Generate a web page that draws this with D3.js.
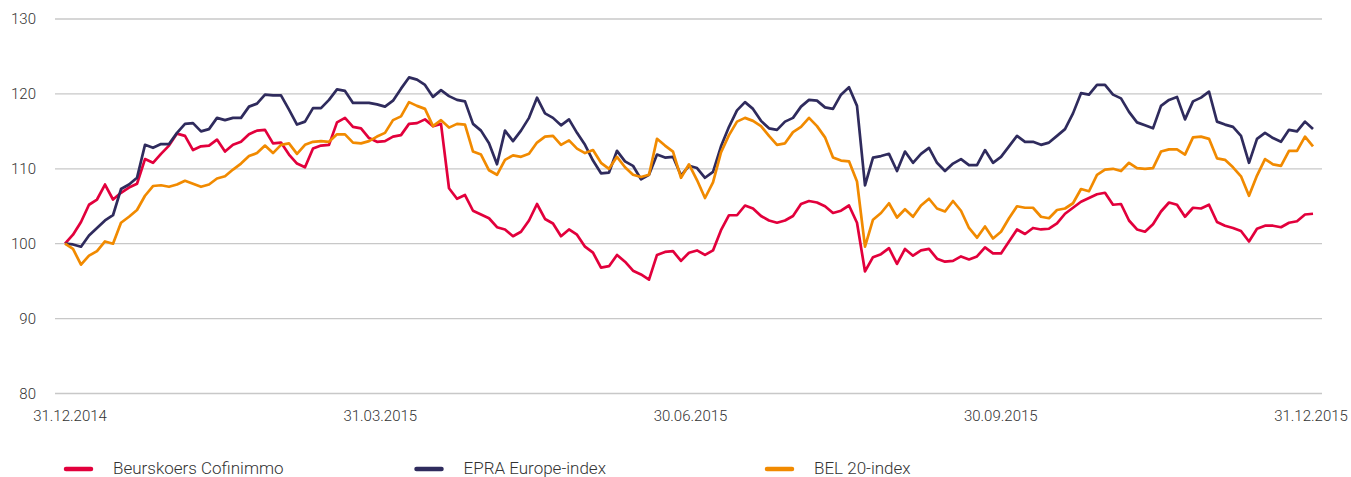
<!DOCTYPE html>
<html>
<head>
<meta charset="utf-8">
<script src="https://cdn.jsdelivr.net/npm/d3@7"></script>
<style>
  body { margin: 0; background: #fff; }
  svg { display: block; }
  text { font-family: Roboto, "Noto Sans", sans-serif; font-weight: 300; fill: #333; }
</style>
</head>
<body>
<svg id="chart" width="1351" height="477"></svg>
<script>
// Index values (31.12.2014 = 100), sampled evenly through 2015
const cofinimmo = [
  100.0,101.2,102.9,105.2,105.9,107.9,105.9,106.8,107.5,108.0,
  111.3,110.8,112.0,113.1,114.7,114.4,112.5,113.0,113.1,113.9,
  112.3,113.2,113.6,114.6,115.1,115.2,113.4,113.5,111.9,110.7,
  110.2,112.7,113.1,113.2,116.2,116.8,115.6,115.4,114.1,113.6,
  113.7,114.3,114.5,116.0,116.1,116.6,115.7,116.0,107.4,106.0,
  106.5,104.4,103.9,103.4,102.2,101.9,101.0,101.6,103.1,105.3,
  103.3,102.7,101.0,101.9,101.2,99.6,98.8,96.8,97.0,98.5,
  97.6,96.4,95.9,95.2,98.5,98.9,99.0,97.7,98.8,99.1,
  98.5,99.1,101.8,103.8,103.8,105.1,104.7,103.7,103.1,102.8,
  103.1,103.7,105.3,105.7,105.5,105.0,104.1,104.4,105.1,102.8,
  96.3,98.2,98.6,99.4,97.3,99.3,98.4,99.1,99.3,98.0,
  97.6,97.7,98.3,97.9,98.3,99.5,98.7,98.7,100.3,101.9,
  101.3,102.1,101.9,102.0,102.7,104.0,104.8,105.6,106.1,106.6,
  106.8,105.2,105.3,103.1,101.9,101.6,102.6,104.3,105.5,105.2,
  103.6,104.8,104.7,105.2,102.9,102.4,102.1,101.7,100.3,102.0,
  102.4,102.4,102.2,102.8,103.0,103.9,104.0
];

const epraEurope = [
  100.0,99.9,99.6,101.1,102.1,103.1,103.8,107.3,107.9,108.8,
  113.2,112.8,113.3,113.3,114.8,116.0,116.1,115.0,115.3,116.8,
  116.5,116.8,116.8,118.3,118.7,119.9,119.8,119.8,117.9,115.9,
  116.3,118.1,118.1,119.2,120.6,120.4,118.8,118.8,118.8,118.6,
  118.3,119.1,120.7,122.2,121.9,121.2,119.6,120.5,119.7,119.2,
  119.0,116.0,115.1,113.4,110.6,115.1,113.7,115.1,116.8,119.5,
  117.4,116.8,115.8,116.6,114.8,113.2,111.1,109.4,109.5,112.4,
  111.0,110.4,108.6,109.2,111.9,111.5,111.6,109.1,110.4,110.1,
  108.8,109.6,113.0,115.6,117.8,118.9,118.0,116.4,115.4,115.2,
  116.3,116.8,118.3,119.2,119.1,118.2,118.0,119.9,120.9,118.4,
  107.8,111.5,111.7,112.0,109.7,112.3,110.8,112.0,112.8,110.8,
  109.7,110.7,111.3,110.5,110.5,112.5,110.8,111.6,113.0,114.4,
  113.6,113.6,113.2,113.5,114.4,115.3,117.4,120.1,119.9,121.2,
  121.2,119.9,119.4,117.6,116.2,115.8,115.4,118.4,119.2,119.6,
  116.6,119.0,119.5,120.3,116.3,115.9,115.6,114.4,110.8,114.0,
  114.8,114.1,113.6,115.2,115.0,116.3,115.3
];

const bel20 = [
  100.0,99.3,97.2,98.4,99.0,100.3,100.0,102.8,103.6,104.5,
  106.4,107.7,107.8,107.6,107.9,108.4,108.0,107.6,107.9,108.7,
  109.0,109.9,110.7,111.7,112.1,113.1,112.1,113.2,113.4,112.0,
  113.2,113.6,113.7,113.6,114.6,114.6,113.5,113.4,113.7,114.3,
  114.8,116.5,117.0,118.9,118.4,118.0,115.7,116.5,115.5,116.0,
  115.9,112.3,111.9,109.8,109.2,111.2,111.8,111.6,112.0,113.5,
  114.3,114.4,113.2,113.8,112.7,112.1,112.5,110.8,110.0,111.6,
  110.2,109.2,108.9,109.2,114.0,113.1,112.3,108.8,110.6,108.5,
  106.1,108.2,112.2,114.5,116.3,116.8,116.4,115.7,114.4,113.2,
  113.4,114.9,115.6,116.8,115.7,114.2,111.5,111.1,111.0,108.3,
  99.6,103.2,104.1,105.4,103.5,104.6,103.6,105.1,106.0,104.7,
  104.3,105.7,104.4,102.1,100.8,102.3,100.7,101.6,103.4,105.0,
  104.8,104.8,103.6,103.4,104.5,104.7,105.4,107.3,107.0,109.2,
  109.9,110.0,109.7,110.8,110.1,110.0,110.1,112.3,112.6,112.6,
  111.9,114.2,114.3,114.0,111.4,111.2,110.2,109.0,106.4,109.1,
  111.3,110.6,110.4,112.4,112.4,114.3,113.0
];

const xTickLabels = ["31.12.2014", "31.03.2015", "30.06.2015", "30.09.2015", "31.12.2015"];
const yTickValues = [80, 90, 100, 110, 120, 130];
const seriesNames = ["Beurskoers Cofinimmo", "EPRA Europe-index", "BEL 20-index"];
const seriesColors = ["#e2003c", "#2f2b5d", "#f18a00"];

const svg = d3.select("#chart");
const n = cofinimmo.length;

const x = d3.scaleLinear().domain([0, n - 1]).range([65, 1313]);
const y = d3.scaleLinear().domain([80, 130]).range([393.5, 19]);
const xLabel = d3.scalePoint().domain(xTickLabels).range([70, 1311]);

// horizontal gridlines
svg.append("g")
  .selectAll("line")
  .data(yTickValues)
  .join("line")
  .attr("x1", 55).attr("x2", 1322)
  .attr("y1", d => y(d)).attr("y2", d => y(d))
  .attr("stroke", "#c8c8c8")
  .attr("stroke-width", 1.3);

// y tick labels
svg.append("g")
  .selectAll("text")
  .data(yTickValues)
  .join("text")
  .attr("x", 36)
  .attr("y", d => y(d))
  .attr("dy", "0.35em")
  .attr("text-anchor", "end")
  .style("font-size", "15px")
  .text(d => d);

// x tick labels
svg.append("g")
  .selectAll("text")
  .data(xTickLabels)
  .join("text")
  .attr("x", d => xLabel(d))
  .attr("y", 421)
  .attr("text-anchor", "middle")
  .style("font-size", "15px")
  .text(d => d);

// series lines
const line = d3.line()
  .x((d, i) => x(i))
  .y(d => y(d))
  .curve(d3.curveLinear);

const series = [cofinimmo, epraEurope, bel20];
svg.append("g")
  .selectAll("path")
  .data(series)
  .join("path")
  .attr("d", d => line(d))
  .attr("fill", "none")
  .attr("stroke", (d, i) => seriesColors[i])
  .attr("stroke-width", 2.7)
  .attr("stroke-linejoin", "round");

// legend
const legend = svg.append("g")
  .selectAll("g")
  .data(seriesNames)
  .join("g")
  .attr("transform", (d, i) => `translate(${64 + i * 350.5},469)`);

legend.append("line")
  .attr("x1", 2).attr("x2", 27)
  .attr("y1", 0).attr("y2", 0)
  .attr("stroke", (d, i) => seriesColors[i])
  .attr("stroke-width", 4.5)
  .attr("stroke-linecap", "round");

legend.append("text")
  .attr("x", 49)
  .attr("y", 5)
  .style("font-size", "17px")
  .text(d => d);
</script>
</body>
</html>
